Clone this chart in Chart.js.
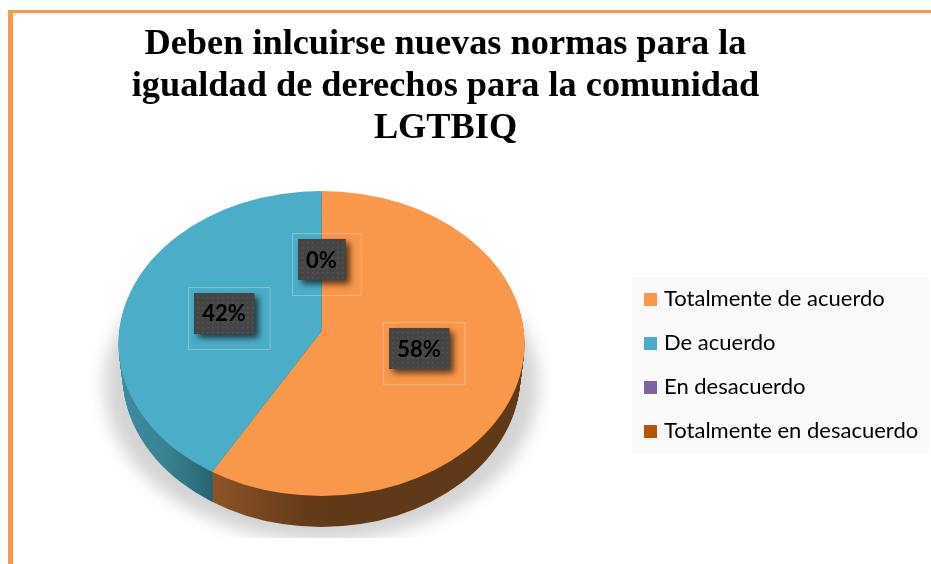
<!DOCTYPE html>
<html><head><meta charset="utf-8">
<style>html,body{margin:0;padding:0;background:#fff}canvas{display:block}</style>
<script src="https://cdn.jsdelivr.net/npm/chart.js@4"></script>
</head><body><canvas id="c" width="931" height="564"></canvas>
<script>
const titleLines = ["Deben inlcuirse nuevas normas para la","igualdad de derechos para la comunidad","LGTBIQ"];
const categories = ["Totalmente de acuerdo","De acuerdo","En desacuerdo","Totalmente en desacuerdo"];
const percentValues = [58,42,0,null];
const sliceColors = ["#F9974A","#4BADC7","#8064A2","#B65708"];

// page-geometry of the tilted pie
const APEX={x:321.5,y:331}, TILT=.707, PIE_R=240, LABEL_R=100.7;
const RIM={x:321.5,y:343.5,rx:203,ry:152.5}, DEPTH=31;

function dotPattern(ctx){
  const p=document.createElement('canvas');p.width=p.height=5;
  const g=p.getContext('2d');g.fillStyle='#454545';g.fillRect(0,0,5,5);
  g.fillStyle='#565656';g.fillRect(2,2,1.5,1.5);
  return ctx.createPattern(p,'repeat');
}
function swatch(color){
  const p=document.createElement('canvas');p.width=p.height=13;
  const g=p.getContext('2d');g.fillStyle=color;g.fillRect(0,0,13,13);
  return p;
}
function pieTransform(ctx,a){
  const s=PIE_R/a.outerRadius;
  ctx.translate(APEX.x,APEX.y);ctx.scale(s,s*TILT);ctx.translate(-a.x,-a.y);
  return s;
}
function rimPath(ctx,dy,shrink){
  ctx.beginPath();ctx.ellipse(RIM.x,RIM.y+dy,RIM.rx-shrink,RIM.ry,0,0,Math.PI*2);
}
function wallGrad(ctx,a,s,stops){
  const l=X=>(X-APEX.x)/s+a.x;
  const g=ctx.createLinearGradient(l(stops[0][0]),0,l(stops[stops.length-1][0]),0);
  const x0=stops[0][0],x1=stops[stops.length-1][0];
  stops.forEach(t=>g.addColorStop((t[0]-x0)/(x1-x0),t[1]));
  return g;
}
const pie3d={
  id:'pie3d',
  afterLayout(chart){
    // legend panel sits at the far right of the frame
    const l=chart.legend;
    l.left=648-l.options.labels.padding;l.right=l.left+l.width;
    l.top=237;l.bottom=493;
  },
  beforeDraw(chart){
    const c=chart.ctx;c.save();
    c.fillStyle='#fff';c.fillRect(0,0,chart.width,chart.height);
    c.fillStyle='#F9974A';c.fillRect(8,10,chart.width-8,3);c.fillRect(8,10,5,chart.height-10);
    c.fillStyle='#FAFAFA';c.fillRect(632,277,297,176);
    // soft ground shadow
    c.beginPath();c.rect(60,200,520,338);c.clip();
    c.filter='blur(8px)';c.fillStyle='rgba(130,130,130,.34)';
    c.beginPath();c.ellipse(321.5,385,217,156,0,0,Math.PI*2);c.fill();
    c.filter='none';c.restore();
  },
  beforeDatasetsDraw(chart){
    const c=chart.ctx,arcs=chart.getDatasetMeta(0).data,a0=arcs[0];
    const base={offset:0,spacing:0,circular:true,borderWidth:0,borderColor:'transparent',borderRadius:0,borderAlign:'center',borderDash:[],borderDashOffset:0,borderJoinStyle:'round'};
    for(let dy=DEPTH;dy>=1;dy--){
      c.save();rimPath(c,dy,dy*.13);c.clip();
      c.translate(0,dy);
      const s=pieTransform(c,a0);
      const grads=[
        wallGrad(c,a0,s,[[110,'#3F8FA8'],[170,'#37808F'],[215,'#28616F']]),
        wallGrad(c,a0,s,[[213,'#8E5428'],[300,'#663C1A'],[340,'#5F3918'],[530,'#5F3918']])
      ];
      [0,1].forEach(i=>{
        const e=Object.create(arcs[i]);
        e.options=Object.assign({},base,{backgroundColor:grads[i===0?1:0]});
        e.draw(c);
      });
      c.restore();
    }
    c.save();rimPath(c,0,0);c.clip();pieTransform(c,a0);
  },
  afterDatasetsDraw(chart){
    const c=chart.ctx;c.restore();
    const arcs=chart.getDatasetMeta(0).data;
    const pat=dotPattern(c);
    arcs.forEach((a,i)=>{
      const v=percentValues[i];
      if(v===null)return;
      const mid=(a.startAngle+a.endAngle)/2;
      const cx=APEX.x+Math.cos(mid)*LABEL_R, cy=APEX.y+Math.sin(mid)*LABEL_R*TILT;
      const t=v+'%';
      c.font='bold 22px Lato, Carlito, sans-serif';
      const w=c.measureText(t).width;
      const bw=w+17,bh=41;
      const bx=Math.round(cx-bw/2),by=Math.round(cy-bh/2);
      c.strokeStyle='rgba(255,255,255,.28)';c.lineWidth=1;
      c.strokeRect(bx-5.5,by-5.5,bw+21,bh+21);
      c.save();c.shadowColor='rgba(0,0,0,.65)';c.shadowBlur=6;c.shadowOffsetX=4;c.shadowOffsetY=4;
      c.fillStyle=pat;c.fillRect(bx,by,bw,bh);c.restore();
      c.fillStyle='#000';c.textAlign='center';c.textBaseline='middle';
      c.fillText(t,cx,cy+1);
    });
  }
};
new Chart(document.getElementById('c'),{
  type:'pie',
  data:{labels:categories,datasets:[{data:percentValues,backgroundColor:sliceColors,borderWidth:0}]},
  plugins:[pie3d],
  options:{
    responsive:false,animation:false,rotation:0,
    layout:{padding:{left:0,right:40,top:0,bottom:0}},
    plugins:{
      tooltip:{enabled:false},
      title:{display:true,text:titleLines,color:'#000',
        font:{family:'"Liberation Serif",serif',size:36.3,weight:'bold',lineHeight:1.157},
        padding:{top:24,bottom:8}},
      legend:{position:'right',align:'center',
        labels:{boxWidth:13,boxHeight:13,padding:22,color:'#1a1a1a',usePointStyle:true,pointStyleWidth:5,
          font:{family:'Lato, Carlito, sans-serif',size:22},
          generateLabels:()=>categories.map((text,index)=>({text,index,hidden:false,lineWidth:0,
            fillStyle:sliceColors[index],strokeStyle:sliceColors[index],pointStyle:swatch(sliceColors[index])}))}}
    }
  }
});
</script></body></html>
